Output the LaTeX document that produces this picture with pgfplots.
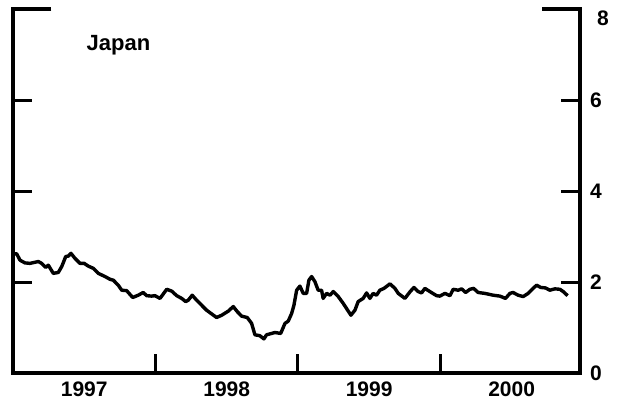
\documentclass[border=0pt]{standalone}
\usepackage{fontspec}
\setmainfont{Liberation Sans}
\usepackage{pgfplots}
\pgfplotsset{compat=1.18}

\begin{document}
\begin{tikzpicture}
\path[use as bounding box] (-6.5pt,-15.5pt) rectangle (303.5pt,186.5pt);
\begin{axis}[
    scale only axis,
    width=283.5pt, height=182pt,
    xmin=1997, xmax=2000.98,
    ymin=0, ymax=8,
    axis line style={draw=none},
    clip=false,
    ytick={0,2,4,6,8},
    yticklabels={0,2,4,6,},
    ytick pos=both,
    yticklabel pos=right,
    yticklabel style={xshift=1.5pt},
    xtick pos=bottom,
    xtick={1998,1999,2000},
    xticklabels={},
    extra x ticks={1997.5,1998.5,1999.5,2000.5},
    extra x tick labels={1997,1998,1999,2000},
    extra x tick style={major tick length=0pt, tick label style={yshift=-1pt}},
    tick align=inside,
    major tick length=9.5pt,
    tick style={black, line width=1.5pt},
    tick label style={font=\bfseries\fontsize{10.5}{12}\selectfont},
    /pgf/number format/assume math mode=true,
]
% frame: left, bottom, right (no top), with the long ticks at 8
\draw[line width=2pt, line join=miter]
    (axis cs:1997.27,8) -- (axis cs:1997,8) -- (axis cs:1997,0)
    -- (axis cs:2000.98,0) -- (axis cs:2000.98,8) -- (axis cs:2000.715,8);

\addplot[black, line width=1.7pt, line join=round] coordinates {
(1997.000,2.62) (1997.026,2.62) (1997.049,2.48) (1997.084,2.42) (1997.119,2.41)
(1997.178,2.45) (1997.201,2.41) (1997.229,2.32) (1997.248,2.37) (1997.283,2.19)
(1997.318,2.21) (1997.342,2.34) (1997.370,2.56) (1997.388,2.57) (1997.407,2.63)
(1997.435,2.52) (1997.470,2.41) (1997.500,2.41) (1997.528,2.35) (1997.564,2.30)
(1997.599,2.19) (1997.646,2.12) (1997.681,2.06) (1997.704,2.04) (1997.739,1.93)
(1997.763,1.82) (1997.798,1.81) (1997.840,1.66) (1997.879,1.71) (1997.914,1.77)
(1997.938,1.70) (1997.973,1.69) (1997.996,1.70) (1998.032,1.64) (1998.079,1.84)
(1998.114,1.80) (1998.149,1.70) (1998.184,1.64) (1998.212,1.57) (1998.230,1.60)
(1998.258,1.71) (1998.289,1.60) (1998.324,1.49) (1998.359,1.38) (1998.394,1.30)
(1998.429,1.22) (1998.465,1.27) (1998.511,1.36) (1998.546,1.46) (1998.574,1.35)
(1998.605,1.25) (1998.644,1.22) (1998.675,1.09) (1998.698,0.84) (1998.733,0.82)
(1998.761,0.75) (1998.780,0.84) (1998.815,0.87) (1998.839,0.89) (1998.879,0.87)
(1998.909,1.09) (1998.932,1.14) (1998.956,1.31) (1998.972,1.49) (1998.991,1.82)
(1999.014,1.91) (1999.037,1.75) (1999.061,1.75) (1999.077,2.04) (1999.096,2.12)
(1999.119,2.01) (1999.142,1.82) (1999.166,1.82) (1999.177,1.64) (1999.201,1.75)
(1999.225,1.71) (1999.248,1.79) (1999.283,1.68) (1999.318,1.53) (1999.372,1.27)
(1999.400,1.38) (1999.423,1.57) (1999.458,1.64) (1999.482,1.76) (1999.505,1.64)
(1999.528,1.75) (1999.552,1.71) (1999.575,1.82) (1999.604,1.86) (1999.646,1.96)
(1999.681,1.86) (1999.704,1.75) (1999.751,1.64) (1999.788,1.79) (1999.814,1.88)
(1999.844,1.79) (1999.868,1.76) (1999.891,1.86) (1999.926,1.79) (1999.973,1.70)
(1999.996,1.69) (2000.032,1.75) (2000.067,1.70) (2000.090,1.84) (2000.125,1.82)
(2000.149,1.85) (2000.177,1.77) (2000.207,1.84) (2000.233,1.86) (2000.265,1.77)
(2000.312,1.75) (2000.371,1.71) (2000.418,1.69) (2000.457,1.64) (2000.488,1.75)
(2000.510,1.77) (2000.546,1.71) (2000.581,1.68) (2000.616,1.75) (2000.644,1.84)
(2000.675,1.93) (2000.705,1.88) (2000.738,1.87) (2000.768,1.82) (2000.804,1.85)
(2000.839,1.84) (2000.862,1.79) (2000.893,1.70)
};

\node[font=\bfseries\fontsize{11}{13}\selectfont] at (axis cs:1997.74,7.21) {Japan};
\node[font=\bfseries\fontsize{10.5}{12}\selectfont, anchor=west]
    at ([xshift=5pt,yshift=-4.5pt]axis cs:2000.98,8) {8};
\end{axis}
\end{tikzpicture}
\end{document}
